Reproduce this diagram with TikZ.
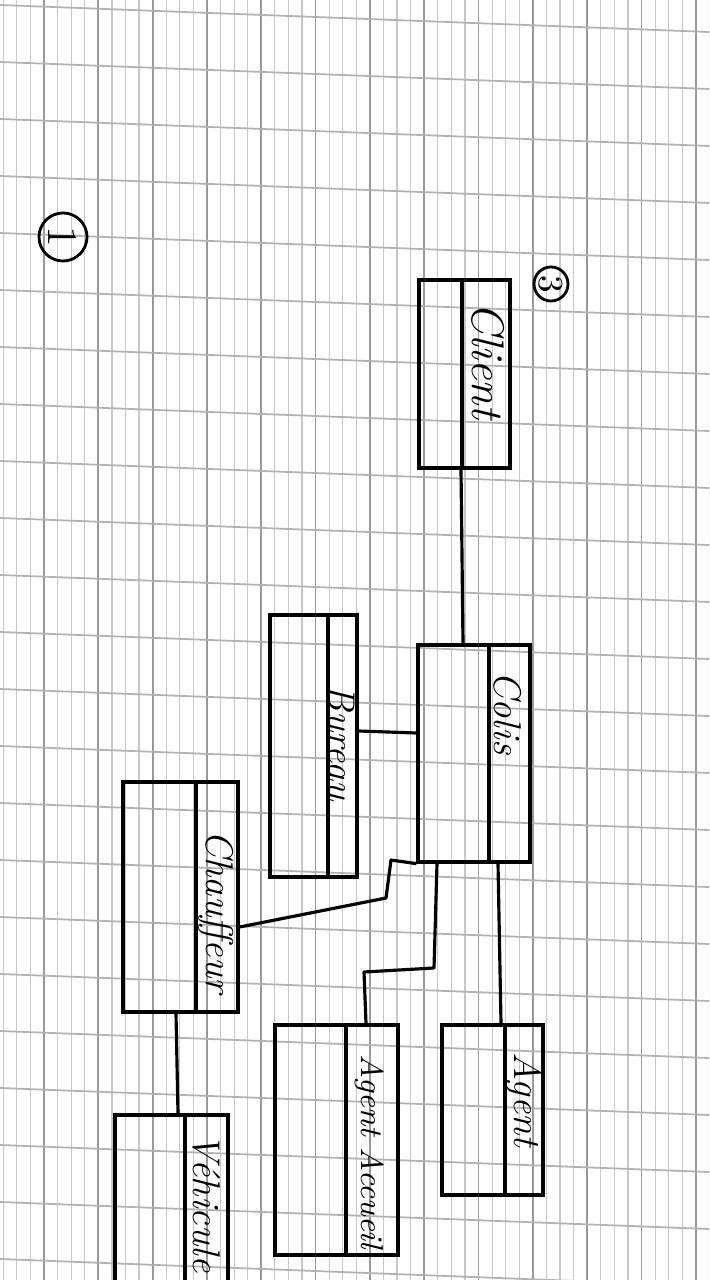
\documentclass[tikz,border=0pt]{standalone}
\usetikzlibrary{calc}
\begin{document}
\begin{tikzpicture}[x=0.01cm,y=-0.01cm,
  classbox/.style={draw=black,line width=0.9pt,inner sep=0pt,fill=none},
  divline/.style={draw=black,line width=0.9pt},
  conn/.style={draw=black,line width=0.9pt,line join=round},
  cname/.style={rotate=-90,inner sep=0pt,font=\fontsize{11}{13}\selectfont\itshape},
  thinrule/.style={draw=black!22,line width=0.35pt},
  majrule/.style={draw=black!40,line width=0.5pt},
  hrule/.style={draw=black!30,line width=0.5pt},
  numcircle/.style={draw=black,line width=0.8pt,circle,inner sep=0pt,rotate=-90}]
\path[use as bounding box] (0,0) rectangle (709,1280);
\fill[white] (0,0) rectangle (709,1280);
\begin{scope}
\clip (0,0) rectangle (709,1280);
% notebook grid
\foreach \j in {-3,...,49} {
  \pgfmathsetmacro{\xx}{44+13.58*\j}
  \pgfmathtruncatemacro{\mm}{mod(\j+40,4)}
  \ifnum\mm=0
    \draw[majrule] (\xx,0) -- (\xx,1280);
  \else
    \draw[thinrule] (\xx,0) -- (\xx,1280);
  \fi
}
\foreach \k in {-4,...,18} {
  \pgfmathsetmacro{\yy}{233+57*\k}
  \draw[hrule] (0,\yy) -- (709,\yy+27);
}

% circled numbers
\node[numcircle,minimum size=0.48cm,font=\fontsize{12}{14}\selectfont] (n1) at (63,237) {1};
\node[numcircle,minimum size=0.34cm,font=\fontsize{10}{12}\selectfont] (n3) at (551,284) {3};

% classes
\node[classbox,minimum width=0.91cm,minimum height=1.88cm] (client) at (464.5,374) {};
\draw[divline] (client.north -| 462,0) -- (client.south -| 462,0);
\node[cname,font=\fontsize{13}{15}\selectfont\itshape] (clientname) at (488,361) {Client};

\node[classbox,minimum width=1.12cm,minimum height=2.17cm] (colis) at (474,753.5) {};
\draw[divline] (colis.north -| 489,0) -- (colis.south -| 489,0);
\node[cname] (colisname) at (508,713) {Colis};

\node[classbox,minimum width=0.87cm,minimum height=2.62cm] (bureau) at (313.5,746) {};
\draw[divline] (bureau.north -| 328,0) -- (bureau.south -| 328,0);
\node[cname] (bureauname) at (342,743) {Bureau};

\node[classbox,minimum width=1.15cm,minimum height=2.30cm] (chauffeur) at (180.5,897) {};
\draw[divline] (chauffeur.north -| 196,0) -- (chauffeur.south -| 196,0);
\node[cname] (chauffeurname) at (216,912) {Chauffeur};

\node[classbox,minimum width=1.23cm,minimum height=2.30cm] (accueil) at (336.5,1140) {};
\draw[divline] (accueil.north -| 346,0) -- (accueil.south -| 346,0);
\node[cname,font=\fontsize{9}{11}\selectfont\itshape] (accueilname) at (370,1152) {Agent Accueil};

\node[classbox,minimum width=1.01cm,minimum height=1.70cm] (agent) at (492.5,1110) {};
\draw[divline] (agent.north -| 505,0) -- (agent.south -| 505,0);
\node[cname] (agentname) at (524,1100) {Agent};

\node[classbox,minimum width=1.13cm,minimum height=1.85cm] (vehicule) at (171.5,1207.5) {};
\draw[divline] (vehicule.north -| 185,0) -- (vehicule.south -| 185,0);
\node[cname] (vehiculename) at (207,1203) {Véhicule};

% connectors
\draw[conn] (client.south -| 461,0) -- (colis.north -| 463,0);
\draw[conn] (bureau.east |- 0,731) -- (colis.west |- 0,733);
\coordinate (b1) at (386,898);
\coordinate (b2) at (391,860);
\draw[conn] (chauffeur.east |- 0,927) -- (b1) -- (b2) -- (colis.south west);
\coordinate (c1) at (434,968);
\coordinate (c2) at (364,972);
\draw[conn] (colis.south -| 437,0) -- (c1) -- (c2) -- (accueil.north -| 366,0);
\draw[conn] (colis.south -| 498,0) -- (agent.north -| 501,0);
\draw[conn] (chauffeur.south -| 176,0) -- (vehicule.north -| 178,0);
\end{scope}
\end{tikzpicture}
\end{document}
